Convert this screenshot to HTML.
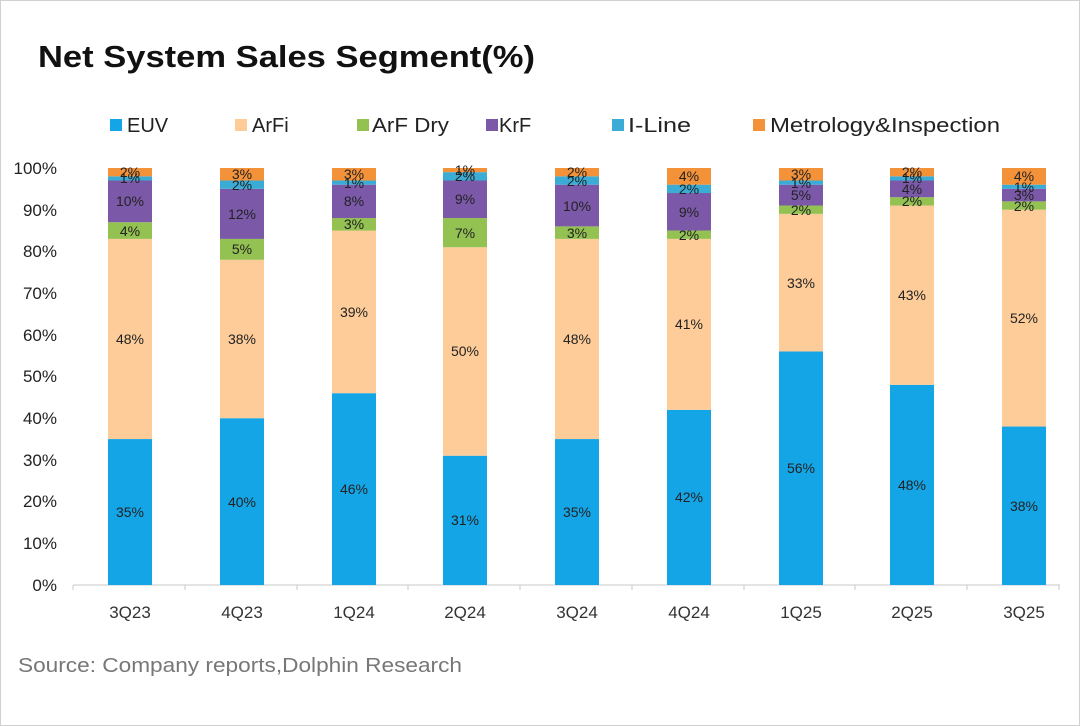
<!DOCTYPE html>
<html><head><meta charset="utf-8"><style>
html,body{margin:0;padding:0;background:#fff}
svg{display:block;font-family:"Liberation Sans","Noto Sans CJK SC",sans-serif}
.l{font-size:14px;fill:#222;text-anchor:middle}
.y{font-size:17px;fill:#222;text-anchor:end}
.x{font-size:17px;fill:#333;text-anchor:middle}
.lg{font-size:20px;fill:#222}
</style></head><body>
<svg width="1080" height="726" viewBox="0 0 1080 726">
<rect x="0.5" y="0.5" width="1079" height="725" fill="#fff" stroke="#d0d0d0"/>
<text x="38" y="67" font-size="31" font-weight="bold" fill="#111" textLength="497" lengthAdjust="spacingAndGlyphs">Net System Sales Segment(%)</text>
<g class="lg">
<rect x="110" y="119" width="12" height="12" fill="#14a5e6"/><text x="127" y="132">EUV</text>
<rect x="235" y="119" width="12" height="12" fill="#fdcc99"/><text x="252" y="132">ArFi</text>
<rect x="357" y="119" width="12" height="12" fill="#93c152"/><text x="372" y="132" textLength="77" lengthAdjust="spacingAndGlyphs">ArF Dry</text>
<rect x="486" y="119" width="12" height="12" fill="#7b59a8"/><text x="499" y="132">KrF</text>
<rect x="612" y="119" width="12" height="12" fill="#3aacd6"/><text x="628" y="132" textLength="63" lengthAdjust="spacingAndGlyphs">I-Line</text>
<rect x="753" y="119" width="12" height="12" fill="#f4923a"/><text x="770" y="132" textLength="230" lengthAdjust="spacingAndGlyphs">Metrology&amp;Inspection</text>
</g>
<g class="y">
<text x="57" y="591">0%</text><text x="57" y="549">10%</text><text x="57" y="507">20%</text><text x="57" y="466">30%</text><text x="57" y="424">40%</text><text x="57" y="382">50%</text><text x="57" y="341">60%</text><text x="57" y="299">70%</text><text x="57" y="257">80%</text><text x="57" y="216">90%</text><text x="57" y="174">100%</text>
</g>
<line x1="73" y1="585" x2="1060" y2="585" stroke="#c8c8c8"/>
<g stroke="#c8c8c8"><line x1="73" y1="585" x2="73" y2="590"/><line x1="185" y1="585" x2="185" y2="590"/><line x1="297" y1="585" x2="297" y2="590"/><line x1="408" y1="585" x2="408" y2="590"/><line x1="520" y1="585" x2="520" y2="590"/><line x1="632" y1="585" x2="632" y2="590"/><line x1="744" y1="585" x2="744" y2="590"/><line x1="855" y1="585" x2="855" y2="590"/><line x1="967" y1="585" x2="967" y2="590"/><line x1="1059" y1="585" x2="1059" y2="590"/></g>

<g transform="translate(108,0)">
<rect y="439.05" width="44" height="145.95" fill="#14a5e6"/><rect y="238.89" width="44" height="200.16" fill="#fdcc99"/><rect y="222.21" width="44" height="16.68" fill="#93c152"/><rect y="180.51" width="44" height="41.7" fill="#7b59a8"/><rect y="176.34" width="44" height="4.17" fill="#3aacd6"/><rect y="168" width="44" height="8.34" fill="#f4923a"/>
<text class="l" x="22" y="517">35%</text><text class="l" x="22" y="344">48%</text><text class="l" x="22" y="236">4%</text><text class="l" x="22" y="206">10%</text><text class="l" x="22" y="183">1%</text><text class="l" x="22" y="177">2%</text>
<text class="x" x="22" y="618">3Q23</text></g>

<g transform="translate(220,0)">
<rect y="418.2" width="44" height="166.8" fill="#14a5e6"/><rect y="259.74" width="44" height="158.46" fill="#fdcc99"/><rect y="238.89" width="44" height="20.85" fill="#93c152"/><rect y="188.85" width="44" height="50.04" fill="#7b59a8"/><rect y="180.51" width="44" height="8.34" fill="#3aacd6"/><rect y="168" width="44" height="12.51" fill="#f4923a"/>
<text class="l" x="22" y="507">40%</text><text class="l" x="22" y="344">38%</text><text class="l" x="22" y="254">5%</text><text class="l" x="22" y="219">12%</text><text class="l" x="22" y="190">2%</text><text class="l" x="22" y="179">3%</text>
<text class="x" x="22" y="618">4Q23</text></g>

<g transform="translate(332,0)">
<rect y="393.18" width="44" height="191.82" fill="#14a5e6"/><rect y="230.55" width="44" height="162.63" fill="#fdcc99"/><rect y="218.04" width="44" height="12.51" fill="#93c152"/><rect y="184.68" width="44" height="33.36" fill="#7b59a8"/><rect y="180.51" width="44" height="4.17" fill="#3aacd6"/><rect y="168" width="44" height="12.51" fill="#f4923a"/>
<text class="l" x="22" y="494">46%</text><text class="l" x="22" y="317">39%</text><text class="l" x="22" y="229">3%</text><text class="l" x="22" y="206">8%</text><text class="l" x="22" y="188">1%</text><text class="l" x="22" y="179">3%</text>
<text class="x" x="22" y="618">1Q24</text></g>

<g transform="translate(443,0)">
<rect y="455.73" width="44" height="129.27" fill="#14a5e6"/><rect y="247.23" width="44" height="208.5" fill="#fdcc99"/><rect y="218.04" width="44" height="29.19" fill="#93c152"/><rect y="180.51" width="44" height="37.53" fill="#7b59a8"/><rect y="172.17" width="44" height="8.34" fill="#3aacd6"/><rect y="168" width="44" height="4.17" fill="#f4923a"/>
<text class="l" x="22" y="525">31%</text><text class="l" x="22" y="356">50%</text><text class="l" x="22" y="238">7%</text><text class="l" x="22" y="204">9%</text><text class="l" x="22" y="181">2%</text><text class="l" x="22" y="175">1%</text>
<text class="x" x="22" y="618">2Q24</text></g>

<g transform="translate(555,0)">
<rect y="439.05" width="44" height="145.95" fill="#14a5e6"/><rect y="238.89" width="44" height="200.16" fill="#fdcc99"/><rect y="226.38" width="44" height="12.51" fill="#93c152"/><rect y="184.68" width="44" height="41.7" fill="#7b59a8"/><rect y="176.34" width="44" height="8.34" fill="#3aacd6"/><rect y="168" width="44" height="8.34" fill="#f4923a"/>
<text class="l" x="22" y="517">35%</text><text class="l" x="22" y="344">48%</text><text class="l" x="22" y="238">3%</text><text class="l" x="22" y="211">10%</text><text class="l" x="22" y="186">2%</text><text class="l" x="22" y="177">2%</text>
<text class="x" x="22" y="618">3Q24</text></g>

<g transform="translate(667,0)">
<rect y="409.86" width="44" height="175.14" fill="#14a5e6"/><rect y="238.89" width="44" height="170.97" fill="#fdcc99"/><rect y="230.55" width="44" height="8.34" fill="#93c152"/><rect y="193.02" width="44" height="37.53" fill="#7b59a8"/><rect y="184.68" width="44" height="8.34" fill="#3aacd6"/><rect y="168" width="44" height="16.68" fill="#f4923a"/>
<text class="l" x="22" y="502">42%</text><text class="l" x="22" y="329">41%</text><text class="l" x="22" y="240">2%</text><text class="l" x="22" y="217">9%</text><text class="l" x="22" y="194">2%</text><text class="l" x="22" y="181">4%</text>
<text class="x" x="22" y="618">4Q24</text></g>

<g transform="translate(779,0)">
<rect y="351.48" width="44" height="233.52" fill="#14a5e6"/><rect y="213.87" width="44" height="137.61" fill="#fdcc99"/><rect y="205.53" width="44" height="8.34" fill="#93c152"/><rect y="184.68" width="44" height="20.85" fill="#7b59a8"/><rect y="180.51" width="44" height="4.17" fill="#3aacd6"/><rect y="168" width="44" height="12.51" fill="#f4923a"/>
<text class="l" x="22" y="473">56%</text><text class="l" x="22" y="288">33%</text><text class="l" x="22" y="215">2%</text><text class="l" x="22" y="200">5%</text><text class="l" x="22" y="188">1%</text><text class="l" x="22" y="179">3%</text>
<text class="x" x="22" y="618">1Q25</text></g>

<g transform="translate(890,0)">
<rect y="384.84" width="44" height="200.16" fill="#14a5e6"/><rect y="205.53" width="44" height="179.31" fill="#fdcc99"/><rect y="197.19" width="44" height="8.34" fill="#93c152"/><rect y="180.51" width="44" height="16.68" fill="#7b59a8"/><rect y="176.34" width="44" height="4.17" fill="#3aacd6"/><rect y="168" width="44" height="8.34" fill="#f4923a"/>
<text class="l" x="22" y="490">48%</text><text class="l" x="22" y="300">43%</text><text class="l" x="22" y="206">2%</text><text class="l" x="22" y="194">4%</text><text class="l" x="22" y="183">1%</text><text class="l" x="22" y="177">2%</text>
<text class="x" x="22" y="618">2Q25</text></g>

<g transform="translate(1002,0)">
<rect y="426.54" width="44" height="158.46" fill="#14a5e6"/><rect y="209.7" width="44" height="216.84" fill="#fdcc99"/><rect y="201.36" width="44" height="8.34" fill="#93c152"/><rect y="188.85" width="44" height="12.51" fill="#7b59a8"/><rect y="184.68" width="44" height="4.17" fill="#3aacd6"/><rect y="168" width="44" height="16.68" fill="#f4923a"/>
<text class="l" x="22" y="511">38%</text><text class="l" x="22" y="323">52%</text><text class="l" x="22" y="211">2%</text><text class="l" x="22" y="200">3%</text><text class="l" x="22" y="192">1%</text><text class="l" x="22" y="181">4%</text>
<text class="x" x="22" y="618">3Q25</text></g>

<text x="18" y="672" font-size="20" fill="#777" textLength="444" lengthAdjust="spacingAndGlyphs">Source: Company reports,Dolphin Research</text>
</svg>
</body></html>
